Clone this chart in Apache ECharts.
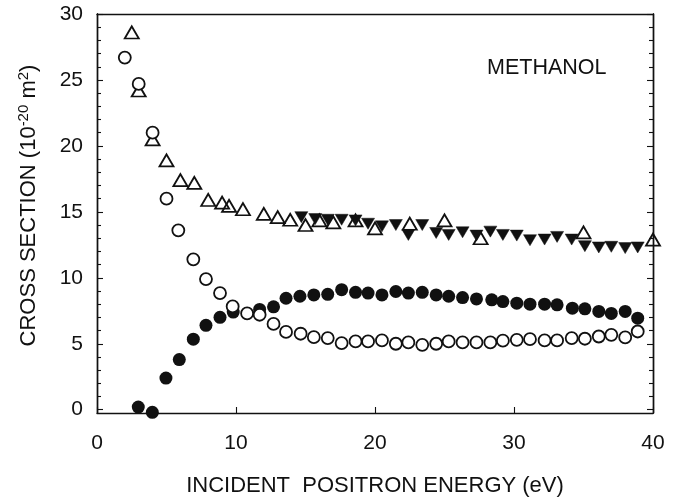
<!DOCTYPE html>
<html>
<head>
<meta charset="utf-8">
<script src="https://cdn.jsdelivr.net/npm/echarts@6/dist/echarts.min.js"></script>
<style>html,body{margin:0;padding:0;background:#fff}#c{width:687px;height:500px}</style>
</head>
<body>
<div id="c"></div>
<script>
// x tick labels / y tick values
var xTicks = [0, 10, 20, 30, 40];
var yMajor = [0, 5, 10, 15, 20, 25, 30];
var yMinor = [1,2,3,4,6,7,8,9,11,12,13,14,16,17,18,19,21,22,23,24,26,27,28,29];

// open up-triangles
var triUp = [[2.5,28.6],[3.0,24.2],[4.0,20.5],[5.0,18.9],[6.0,17.4],[7.0,17.2],[8.0,15.9],[9.0,15.7],[9.5,15.45],[10.5,15.2],[12.0,14.85],[13.0,14.6],[13.9,14.4],[15.0,14.0],[16.0,14.35],[17.0,14.2],[18.6,14.35],[20.0,13.75],[22.5,14.1],[25.0,14.35],[27.6,13.0],[35.0,13.45],[40.0,12.9]];
// filled down-triangles
var triDown = [[14.7,14.6],[15.7,14.45],[16.6,14.4],[17.6,14.4],[18.6,14.35],[19.5,14.1],[20.5,13.9],[21.5,14.0],[22.4,13.25],[23.4,14.0],[24.4,13.4],[25.3,13.25],[26.3,13.45],[27.3,13.2],[28.3,13.5],[29.2,13.25],[30.2,13.2],[31.15,12.85],[32.2,12.9],[33.1,13.1],[34.15,12.9],[35.1,12.4],[36.1,12.3],[37.0,12.35],[38.0,12.25],[38.9,12.3]];
// open circles
var circOpen = [[2.0,26.7],[3.0,24.7],[4.0,21.0],[5.0,16.0],[5.85,13.6],[6.93,11.4],[7.84,9.9],[8.85,8.84],[9.76,7.83],[10.8,7.3],[11.7,7.2],[12.7,6.5],[13.6,5.9],[14.65,5.76],[15.6,5.5],[16.6,5.43],[17.6,5.05],[18.6,5.18],[19.5,5.18],[20.5,5.25],[21.5,5.0],[22.4,5.1],[23.4,4.92],[24.4,5.0],[25.3,5.18],[26.3,5.1],[27.3,5.1],[28.3,5.1],[29.2,5.23],[30.2,5.3],[31.15,5.35],[32.2,5.25],[33.1,5.25],[34.15,5.43],[35.1,5.38],[36.1,5.55],[37.0,5.68],[38.0,5.48],[38.9,5.93]];
// filled circles
var circFilled = [[2.97,0.2],[3.98,-0.2],[4.96,2.4],[5.92,3.8],[6.93,5.35],[7.84,6.4],[8.85,7.0],[9.8,7.4],[11.7,7.6],[12.7,7.8],[13.6,8.45],[14.6,8.6],[15.6,8.7],[16.6,8.75],[17.6,9.1],[18.6,8.9],[19.5,8.84],[20.5,8.7],[21.5,8.96],[22.4,8.84],[23.4,8.9],[24.4,8.7],[25.3,8.6],[26.3,8.5],[27.3,8.4],[28.4,8.33],[29.2,8.2],[30.2,8.08],[31.15,8.0],[32.2,8.0],[33.1,7.95],[34.2,7.7],[35.1,7.65],[36.1,7.45],[37.0,7.3],[38.0,7.45],[38.9,6.94]];

var FONT = 'Liberation Sans, Arial, sans-serif';
var INK = '#111111';

function yAx(pos, ticks, len, labels) {
  return {
    type: 'value', position: pos, min: -0.25, max: 30,
    axisLine: {show: true, onZero: false, lineStyle: {color: INK, width: 1.4}},
    axisTick: {show: true, inside: true, length: len, customValues: ticks, lineStyle: {color: INK, width: 1.1}},
    axisLabel: labels ? {show: true, customValues: yMajor, margin: 14, fontSize: 21, fontFamily: FONT, color: INK} : {show: false},
    splitLine: {show: false}
  };
}

var chart = echarts.init(document.getElementById('c'));
var yLeft = yAx('left', yMajor, 6, true);
yLeft.name = 'CROSS SECTION (10{sup|-20} m{sup|2})';
yLeft.nameLocation = 'middle';
yLeft.nameGap = 56;
yLeft.nameTextStyle = {fontSize: 22, fontFamily: FONT, color: INK, padding: [0, 0, 0, 16],
  rich: {sup: {fontSize: 15, fontFamily: FONT, color: INK, verticalAlign: 'top', padding: [0,0,10,0]}}};

chart.setOption({
  animation: false,
  backgroundColor: '#fff',
  title: {text: 'METHANOL', left: 482, top: 52, textStyle: {fontSize: 21.5, fontWeight: 'normal', fontFamily: FONT, color: INK}},
  grid: {left: 97, right: 34, top: 14, bottom: 87, containLabel: false, outerBoundsMode: 'none'},
  xAxis: [{
    type: 'value', position: 'bottom', min: 0, max: 40, interval: 10,
    axisLine: {show: true, onZero: false, lineStyle: {color: INK, width: 1.4}},
    axisTick: {show: true, inside: true, length: 6, lineStyle: {color: INK, width: 1.1}},
    axisLabel: {show: true, margin: 20, fontSize: 21, fontFamily: FONT, color: INK,
      formatter: function (v) { return xTicks.indexOf(v) >= 0 ? String(v) : ''; }},
    splitLine: {show: false},
    name: 'INCIDENT  POSITRON ENERGY (eV)', nameLocation: 'middle', nameGap: 62,
    nameTextStyle: {fontSize: 22, fontFamily: FONT, color: INK}
  }, {
    type: 'value', position: 'top', min: 0, max: 40,
    axisLine: {show: true, onZero: false, lineStyle: {color: INK, width: 1.4}},
    axisTick: {show: false}, axisLabel: {show: false}, splitLine: {show: false}
  }],
  yAxis: [yLeft, yAx('left', yMinor, 4, false), yAx('right', yMajor, 6, false), yAx('right', yMinor, 4, false)],
  series: [
    {type: 'scatter', name: 'down', data: triDown, symbol: 'triangle', symbolRotate: 180, symbolSize: [13, 11],
      itemStyle: {color: INK, borderColor: INK, borderWidth: 0.5, opacity: 1}, z: 2},
    {type: 'scatter', name: 'up', data: triUp, symbol: 'triangle', symbolSize: [14, 12],
      itemStyle: {color: 'rgba(255,255,255,0)', borderColor: INK, borderWidth: 1.8, opacity: 1}, z: 3},
    {type: 'scatter', name: 'filled', data: circFilled, symbol: 'circle', symbolSize: 13,
      itemStyle: {color: INK, borderColor: INK, borderWidth: 0, opacity: 1}, z: 4},
    {type: 'scatter', name: 'open', data: circOpen, symbol: 'circle', symbolSize: 12,
      itemStyle: {color: '#fff', borderColor: INK, borderWidth: 1.8, opacity: 1}, z: 5}
  ]
});
</script>
</body>
</html>
